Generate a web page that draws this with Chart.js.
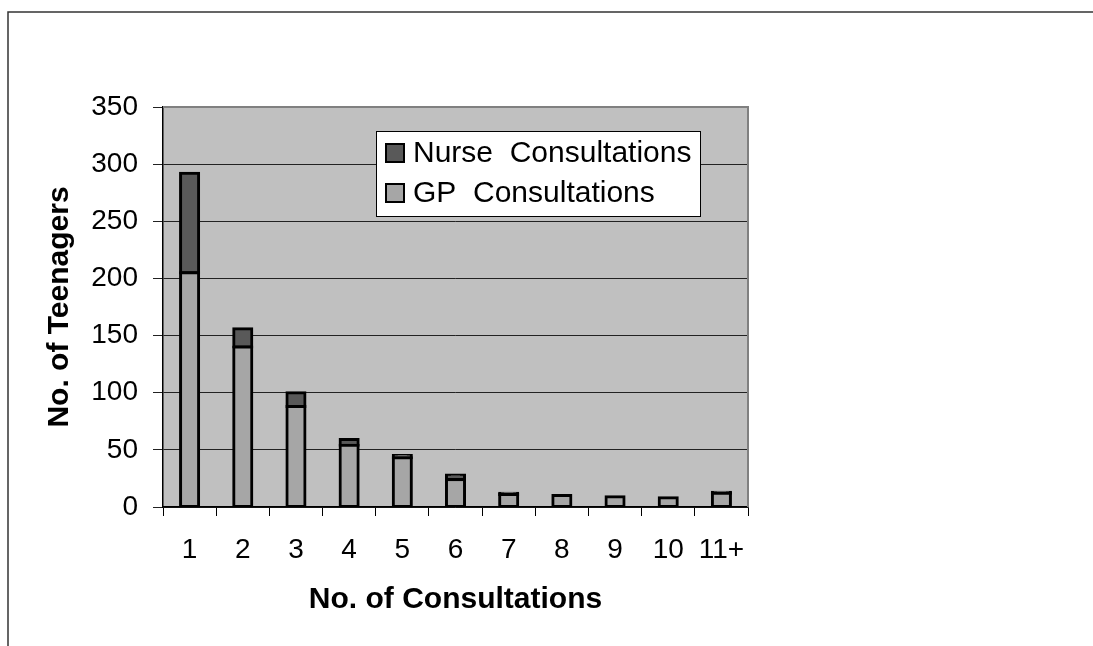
<!DOCTYPE html>
<html>
<head>
<meta charset="utf-8">
<script src="https://cdn.jsdelivr.net/npm/chart.js@4/dist/chart.umd.min.js"></script>
<style>
  body { margin: 0; background: #fff; }
  canvas { display: block; }
</style>
</head>
<body>
<canvas id="chart" width="1093" height="646"></canvas>
<script>
const categories = ["1", "2", "3", "4", "5", "6", "7", "8", "9", "10", "11+"]
const gpConsultations = [205, 140, 88, 54, 43, 24, 11, 10, 9, 8, 12]
const nurseConsultations = [87, 16, 12, 5, 2, 4, 1, 0, 0, 0, 1]
const yTicks = [0, 50, 100, 150, 200, 250, 300, 350]

const FONT = "'Liberation Sans', Arial, sans-serif"

// grey plot background, grey top/right frame and outer chart border
const frame = {
  id: "frame",
  beforeDraw(chart) {
    const {ctx, chartArea: {left, top, right, bottom}} = chart
    ctx.save()
    ctx.fillStyle = "#c0c0c0"
    ctx.fillRect(left, top, right - left, bottom - top)
    ctx.strokeStyle = "#333"
    ctx.lineWidth = 1.5
    ctx.beginPath()
    ctx.moveTo(8, 646)
    ctx.lineTo(8, 12)
    ctx.lineTo(1093, 12)
    ctx.stroke()
    ctx.restore()
  },
  afterDatasetsDraw(chart) {
    const {ctx, chartArea: {left, top, right, bottom}} = chart
    ctx.save()
    ctx.strokeStyle = "#808080"
    ctx.lineWidth = 2
    ctx.beginPath()
    ctx.moveTo(left, top)
    ctx.lineTo(right, top)
    ctx.lineTo(right, bottom)
    ctx.stroke()
    ctx.restore()
  }
}

// legend box drawn inside the plot area, series in reverse order
const boxLegend = {
  id: "boxLegend",
  afterDraw(chart) {
    const {ctx, chartArea: {left, top}} = chart
    const x = left + 213, y = top + 24, w = 324, h = 85
    ctx.save()
    ctx.fillStyle = "#fff"
    ctx.fillRect(x, y, w, h)
    ctx.strokeStyle = "#000"
    ctx.lineWidth = 1
    ctx.strokeRect(x + 0.5, y + 0.5, w, h)
    const items = chart.data.datasets.slice().reverse()
    ctx.font = "30px " + FONT
    ctx.textBaseline = "middle"
    items.forEach((ds, i) => {
      const cy = y + 22 + i * 40
      ctx.fillStyle = ds.backgroundColor
      ctx.fillRect(x + 10, cy - 9, 18, 18)
      ctx.lineWidth = 2
      ctx.strokeStyle = "#000"
      ctx.strokeRect(x + 10, cy - 9, 18, 18)
      ctx.fillStyle = "#000"
      ctx.fillText(ds.label, x + 37, cy + 1)
    })
    ctx.restore()
  }
}

new Chart(document.getElementById("chart"), {
  type: "bar",
  data: {
    labels: categories,
    datasets: [
      {
        label: "GP  Consultations",
        data: gpConsultations,
        backgroundColor: "#a6a6a6",
      },
      {
        label: "Nurse  Consultations",
        data: nurseConsultations,
        backgroundColor: "#595959",
      },
    ],
  },
  options: {
    responsive: false,
    animation: false,
    layout: { padding: { left: 30, top: 107, right: 345, bottom: 20 } },
    datasets: {
      bar: {
        barPercentage: 0.34,
        categoryPercentage: 1,
        borderColor: "#000",
        borderWidth: 3,
        borderSkipped: false,
        inflateAmount: 1.5,
      },
    },
    scales: {
      x: {
        stacked: true,
        offset: true,
        afterFit(s) { s.height = 119 },
        grid: { offset: true, drawOnChartArea: false, tickLength: 9, color: "#000" },
        border: { color: "#000", width: 1.5 },
        ticks: { color: "#000", padding: 17, font: { family: FONT, size: 28 } },
        title: {
          display: true,
          text: "No. of Consultations",
          color: "#000",
          padding: { top: 0, bottom: 8 },
          font: { family: FONT, size: 30, weight: "bold" },
        },
      },
      y: {
        stacked: true,
        min: 0,
        max: 350,
        afterFit(s) { s.width = 133 },
        afterBuildTicks(s) { s.ticks = yTicks.map(v => ({ value: v })) },
        grid: { color: "#222", tickLength: 10 },
        border: { color: "#000", width: 1.5 },
        ticks: { color: "#000", padding: 15, font: { family: FONT, size: 28 } },
        title: {
          display: true,
          text: "No. of Teenagers",
          color: "#000",
          padding: { top: 12, bottom: 0 },
          font: { family: FONT, size: 30, weight: "bold" },
        },
      },
    },
    plugins: {
      legend: { display: false },
      tooltip: { enabled: false },
    },
  },
  plugins: [frame, boxLegend],
})
</script>
</body>
</html>
